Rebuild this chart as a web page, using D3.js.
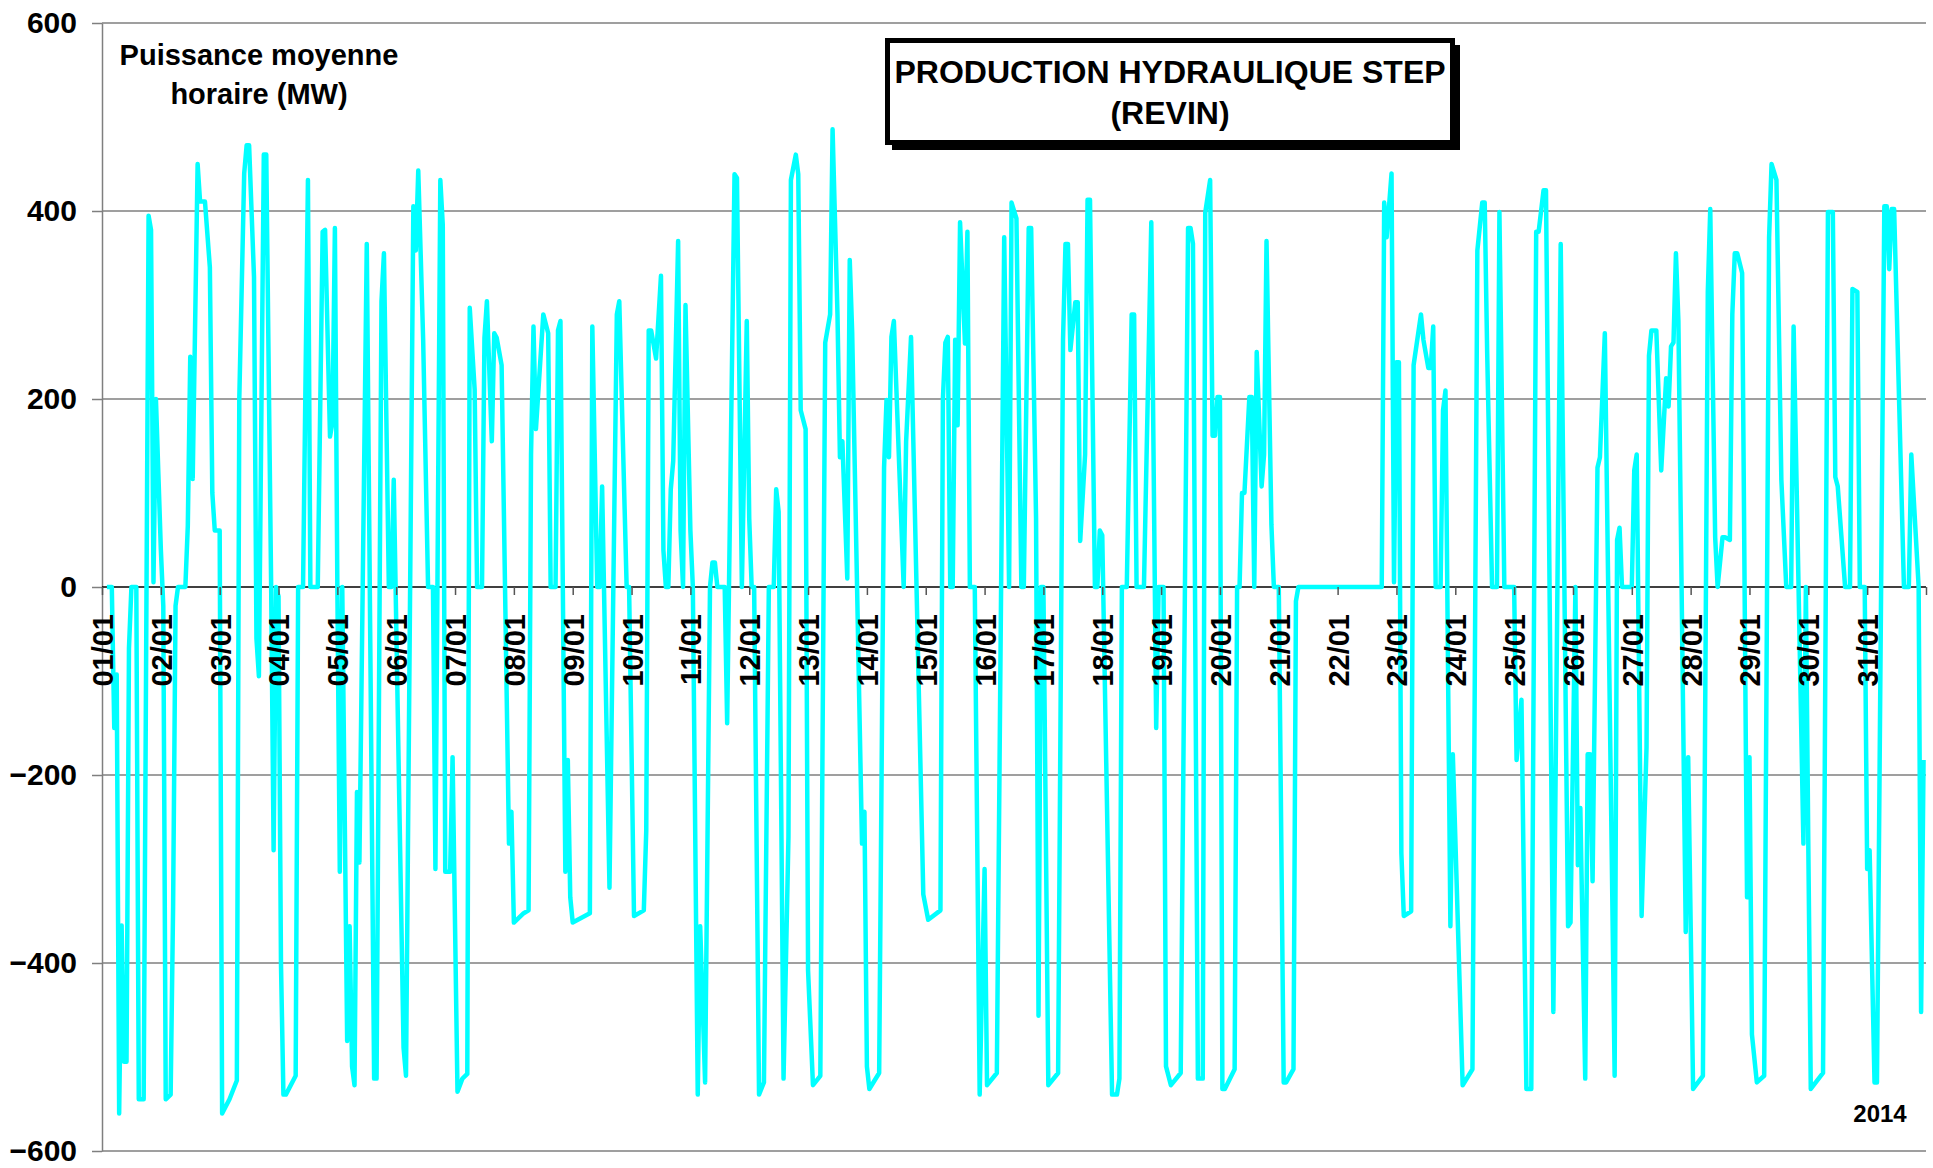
<!DOCTYPE html>
<html>
<head>
<meta charset="utf-8">
<script src="https://cdn.jsdelivr.net/npm/d3@7/dist/d3.min.js"></script>
<style>
body { margin: 0; background: #fff; }
svg { display: block; }
text { font-family: "Liberation Sans", Arial, sans-serif; font-weight: bold; fill: #000; }
</style>
</head>
<body>
<svg id="chart" width="1933" height="1168"></svg>
<script>
// hourly mean power, January 2014: [hour since 01/01 00:00, MW]
var week1 = [[2,0],[4,0],[5,-150],[6,-93],[7,-560],[8,-360],[9,-505],[10,-505],[11,-65],[12,0],[14,0],[15,-545],[17,-545],[19,395],[20,380],[21,5],[22,200],[23,120],[24,40],[25,-20],[26,-545],[28,-540],[29,-340],[30,-20],[31,0],[34,0],[35,65],[36,245],[37,115],[39,450],[40,410],[42,410],[44,340],[45,100],[46,60],[48,60],[49,-560],[52,-545],[55,-525],[56,200],[58,440],[59,470],[60,470],[62,330],[63,-55],[64,-95],[66,460],[67,460],[69,0],[70,-280],[71,0],[72,-10],[73,-400],[74,-540],[75,-540],[79,-520],[80,0],[82,0],[84,433],[85,0],[88,0],[90,378],[91,380],[93,160],[94,175],[95,382],[96,0],[97,-303],[98,0],[100,-483],[101,-361],[102,-510],[103,-530],[104,-218],[105,-293],[108,365],[111,-523],[112,-523],[114,304],[115,355],[117,0],[118,0],[119,114],[123,-490],[124,-520],[127,405],[128,358],[129,443],[131,263],[133,0],[135,0],[136,-300],[138,433],[139,385],[140,-303],[142,-303],[143,-181],[145,-537],[147,-523],[149,-518],[150,297],[152,210],[153,0],[155,0],[156,265],[157,304],[159,155],[160,270],[161,265],[163,236],[166,-273],[167,-239]];
var week2 = [[168,-357],[172,-347],[174,-344],[175,141],[176,277],[177,168],[180,290],[182,270],[183,0],[185,0],[186,273],[187,283],[189,-303],[190,-184],[191,-330],[192,-357],[199,-347],[200,277],[202,0],[203,0],[204,107],[207,-320],[210,290],[211,304],[214,0],[215,0],[217,-350],[221,-344],[222,-259],[223,273],[224,273],[226,243],[228,331],[229,39],[230,0],[231,0],[232,104],[233,134],[235,368],[236,60],[237,0],[238,300],[240,60],[241,0],[243,-540],[244,-361],[246,-527],[248,0],[249,26],[250,26],[251,0],[254,0],[255,-145],[258,439],[259,435],[261,0],[263,283],[264,73],[265,0],[266,0],[268,-540],[270,-527],[272,0],[274,0],[275,104],[276,80],[278,-523],[280,-266],[281,433],[283,460],[284,439],[285,188],[287,168],[288,-408],[290,-530],[293,-520],[295,260],[297,290],[298,487],[300,290],[301,138],[302,155],[304,9],[305,348],[306,270],[310,-273],[311,-239],[312,-510],[313,-534],[317,-517],[319,127],[320,199],[321,138],[322,266],[323,283],[327,0],[328,155],[330,266],[335,-327]];
var week3 = [[337,-354],[342,-344],[343,200],[344,260],[345,266],[346,0],[347,0],[348,263],[349,172],[350,388],[352,259],[353,378],[354,0],[356,0],[358,-540],[360,-300],[361,-530],[365,-517],[368,372],[370,0],[371,409],[373,392],[375,0],[376,0],[378,382],[379,382],[381,73],[382,-456],[383,0],[384,0],[386,-530],[390,-517],[392,263],[393,365],[394,365],[395,252],[397,303],[398,303],[399,49],[401,141],[402,412],[403,412],[405,0],[406,0],[407,60],[408,55],[412,-540],[414,-540],[415,-523],[416,0],[418,0],[420,290],[421,290],[422,0],[425,0],[428,388],[430,-150],[431,0],[433,0],[434,-510],[436,-530],[440,-517],[443,382],[444,382],[445,365],[447,-523],[449,-523],[450,398],[452,433],[453,161],[454,161],[455,202],[456,202],[457,-534],[458,-534],[462,-513],[463,0],[464,0],[465,100],[466,100],[468,202],[469,202],[470,0],[471,250],[473,107],[474,141],[475,368],[477,66],[478,0],[480,0],[482,-527],[483,-527],[486,-513],[487,-15],[488,0],[503,0]];
var week4 = [[522,0],[523,409],[524,372],[526,440],[527,5],[528,239],[529,239],[530,-283],[531,-350],[534,-345],[535,236],[538,290],[539,263],[541,233],[542,233],[543,277],[544,0],[546,0],[547,188],[548,209],[550,-361],[551,-178],[555,-530],[559,-513],[561,358],[563,409],[564,409],[565,250],[567,0],[569,0],[570,399],[572,0],[576,0],[577,-184],[579,-120],[581,-534],[583,-534],[585,378],[586,378],[588,422],[589,422],[592,-452],[595,365],[598,-361],[599,-357],[601,0],[602,-296],[603,-235],[605,-523],[606,-178],[607,-178],[608,-313],[610,127],[611,138],[613,270],[617,-520],[618,50],[619,63],[620,0],[624,0],[625,124],[626,141],[628,-350],[630,-171],[631,246],[632,273],[634,273],[636,124],[638,222],[639,192],[640,256],[641,260],[642,355],[643,283],[646,-367],[647,-181],[649,-534],[653,-520],[655,314],[656,402],[658,53],[659,0],[661,53],[662,53],[664,50],[665,290],[666,355],[667,355],[669,334],[671,-330]];
var week5 = [[672,-181],[673,-476],[675,-527],[678,-520],[680,372],[681,450],[683,433],[685,114],[687,0],[689,0],[690,277],[694,-273],[695,0],[696,-276],[697,-534],[702,-517],[704,399],[706,399],[707,117],[708,107],[711,0],[713,0],[714,317],[716,314],[717,0],[719,0],[720,-300],[721,-280],[723,-527],[724,-527],[727,405],[728,405],[729,338],[730,402],[731,402],[735,0],[737,0],[738,141],[741,0],[742,-452],[743,-184]];

var yTicks = [-600, -400, -200, 0, 200, 400, 600];
var dayLabels = ["01/01","02/01","03/01","04/01","05/01","06/01","07/01","08/01","09/01","10/01","11/01","12/01","13/01","14/01","15/01","16/01","17/01","18/01","19/01","20/01","21/01","22/01","23/01","24/01","25/01","26/01","27/01","28/01","29/01","30/01","31/01"];

var svg = d3.select("#chart"),
	margin = {top: 23, right: 7, bottom: 17, left: 102},
	width = +svg.attr("width") - margin.left - margin.right,
	height = +svg.attr("height") - margin.top - margin.bottom;

var x = d3.scaleTime()
	.domain([new Date(2014, 0, 1), new Date(2014, 1, 1)])
	.range([0, width]);
var y = d3.scaleLinear().domain([-600, 600]).range([height, 0]);

var g = svg.append("g")
	.attr("transform", "translate(" + margin.left + "," + margin.top + ")");

var data = week1.concat(week2, week3, week4, week5).map(function(p) {
	return {t: new Date(2014, 0, 1, p[0]), v: p[1]};
});

// gridlines
g.selectAll(".grid")
	.data(yTicks.filter(function(d) { return d != 0; }))
	.enter().append("line")
	.attr("class", "grid")
	.attr("x1", 0).attr("x2", width)
	.attr("y1", function(d) { return y(d); })
	.attr("y2", function(d) { return y(d); })
	.attr("stroke", "#7f7f7f")
	.attr("stroke-width", 1.3);

// y axis
var yAxis = g.append("g")
	.call(d3.axisLeft(y).tickValues(yTicks).tickSize(10).tickSizeOuter(0).tickPadding(15));
yAxis.select(".domain").attr("stroke", "#7f7f7f").attr("stroke-width", 1.5);
yAxis.selectAll(".tick line").attr("stroke", "#7f7f7f").attr("stroke-width", 1.5);
yAxis.selectAll(".tick text")
	.attr("font-size", 30)
	.attr("font-family", "'Liberation Sans', Arial, sans-serif")
	.attr("font-weight", "bold")
	.attr("fill", "#000");

// zero line under the series
g.append("line")
	.attr("x1", 0).attr("x2", width)
	.attr("y1", y(0)).attr("y2", y(0))
	.attr("stroke", "#000")
	.attr("stroke-width", 1.6);

// series
var line = d3.line()
	.x(function(d) { return x(d.t); })
	.y(function(d) { return y(d.v); });

g.append("path")
	.datum(data)
	.attr("fill", "none")
	.attr("stroke", "#00ffff")
	.attr("stroke-width", 4.5)
	.attr("stroke-linejoin", "round")
	.attr("d", line);

// day ticks and labels above the series
var dayTicks = d3.range(32).map(function(i) { return new Date(2014, 0, 1 + i); });
var xAxis = g.append("g")
	.attr("transform", "translate(0," + y(0) + ")")
	.call(d3.axisBottom(x).tickValues(dayTicks).tickSize(8).tickSizeOuter(0)
		.tickFormat(function(d, i) { return dayLabels[i] || ""; }));
xAxis.select(".domain").remove();
xAxis.selectAll(".tick line").attr("stroke", "#555").attr("stroke-width", 1.5);
xAxis.selectAll(".tick text")
	.attr("transform", "rotate(-90)")
	.attr("x", -27)
	.attr("y", 0)
	.attr("dy", "0.36em")
	.attr("text-anchor", "end")
	.attr("font-size", 29)
	.attr("font-family", "'Liberation Sans', Arial, sans-serif")
	.attr("font-weight", "bold")
	.attr("fill", "#000");

// unit label
var unit = svg.append("text")
	.attr("text-anchor", "middle")
	.attr("font-size", 29);
unit.append("tspan").attr("x", 259).attr("y", 65).text("Puissance moyenne");
unit.append("tspan").attr("x", 259).attr("y", 104).text("horaire (MW)");

// title box
svg.append("rect")
	.attr("x", 892).attr("y", 45).attr("width", 568).attr("height", 105)
	.attr("fill", "#000");
svg.append("rect")
	.attr("x", 887.5).attr("y", 40.5).attr("width", 565).attr("height", 102)
	.attr("fill", "#fff").attr("stroke", "#000").attr("stroke-width", 5);
var title = svg.append("text")
	.attr("text-anchor", "middle")
	.attr("font-size", 32);
title.append("tspan").attr("x", 1170).attr("y", 83).text("PRODUCTION HYDRAULIQUE STEP");
title.append("tspan").attr("x", 1170).attr("y", 124).text("(REVIN)");

svg.append("text")
	.attr("x", 1880).attr("y", 1122)
	.attr("text-anchor", "middle")
	.attr("font-size", 24)
	.text("2014");
</script>
</body>
</html>
